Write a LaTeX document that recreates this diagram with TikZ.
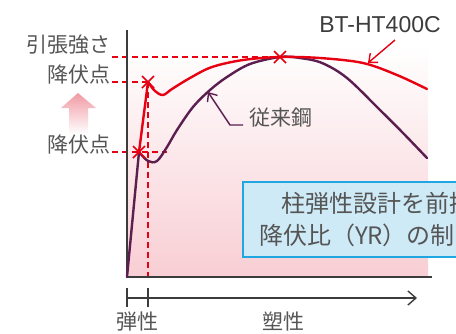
\documentclass[tikz,border=0pt]{standalone}
\usepackage{fontspec}
\setmainfont{Noto Sans CJK JP}
\newfontfamily\latinfont{Liberation Sans}
\usetikzlibrary{arrows.meta}
\definecolor{btred}{HTML}{E60012}
\definecolor{oldsteel}{HTML}{5B1E4F}
\definecolor{axisgray}{HTML}{3C3C3C}
\definecolor{labelgray}{HTML}{555555}
\definecolor{pinkfill}{HTML}{F8CED4}
\definecolor{arrowpink}{HTML}{F09AA3}
\definecolor{boxblue}{HTML}{CFEAF7}
\definecolor{boxline}{HTML}{1EA7E1}

\begin{document}
\begin{tikzpicture}[x=1pt, y=-1pt,
  every node/.style={inner sep=0pt, outer sep=0pt, text=labelgray},
  jplabel/.style={font=\fontsize{21}{21}\selectfont},
  notetext/.style={font=\fontsize{24}{24}\selectfont},
  guide/.style={btred, dash pattern=on 6pt off 4pt, line width=1.2pt},
  yieldmark/.style={btred, line width=1.6pt},
  curve/.style={line width=2.4pt, line join=round, line cap=round},
  pointer/.style={line width=1.4pt, -{Straight Barb[length=7pt,width=12pt]}}]
\useasboundingbox (0,0) rectangle (456,333);
\clip (0,0) rectangle (456,333);

% background
\shade[top color=white, bottom color=pinkfill] (127,45) rectangle (428,277);

% named points
\coordinate (origin) at (127,277);
\coordinate (yieldlow) at (139,152);
\coordinate (yieldhigh) at (148,82);
\coordinate (tensile) at (280,57);

% guide lines
\draw[guide] (112,57) -- (tensile);
\draw[guide] (112,82) -- (yieldhigh);
\draw[guide] (112,152) -- (167,152);
\draw[guide] (yieldhigh) -- (148,277);

% axes
\draw[axisgray, line width=1.5pt] (127,30) -- (origin) -- (432,277);

% conventional steel
\draw[curve, oldsteel] (origin) -- (yieldlow)
  plot[smooth, tension=0.55] coordinates {(139,152) (148,161) (157,161) (167,147) (177,130) (193,107) (210,90) (227,77) (250,64) (280,57) (300,58) (322,63) (347,78) (380,110) (404,134) (427,158)};

% BT-HT400C
\draw[curve, btred] (yieldlow) -- (yieldhigh)
  plot[smooth, tension=0.55] coordinates {(148,82) (155,91) (163,95) (172,89) (190,78) (212,67) (243,60) (280,57) (320,58) (363,63) (397,75) (427,89)};

% yield and tensile marks
\draw[yieldmark] (yieldlow) ++(-6,-6) -- ++(12,12) (yieldlow) ++(-6,6) -- ++(12,-12);
\draw[yieldmark] (yieldhigh) ++(-6,-6) -- ++(12,12) (yieldhigh) ++(-6,6) -- ++(12,-12);
\draw[yieldmark] (tensile) ++(-6,-6) -- ++(12,12) (tensile) ++(-6,6) -- ++(12,-12);

% labels left
\node[jplabel, anchor=east] (tslabel) at (111,45) {引張強さ};
\node[jplabel, anchor=east] (yhlabel) at (111,75) {降伏点};
\node[jplabel, anchor=east] (yllabel) at (111,145) {降伏点};
\shade[top color=arrowpink, bottom color=white] (69,134) -- (69,108) -- (61,108) -- (78,93) -- (96,108) -- (88,108) -- (88,134) -- cycle;

% curve labels
\node[font=\latinfont\fontsize{23}{23}\selectfont, text=axisgray] (btlabel) at (380,25) {BT-HT400C};
\coordinate (btpoint) at (368,63);
\draw[pointer, btred] (395,40) -- (btpoint);
\node[jplabel, anchor=west] (oldlabel) at (249,118) {従来鋼};
\coordinate (oldpoint) at (208,92);
\draw[pointer, oldsteel] (oldlabel.west |- 0,125) ++(-6,0) -- (230,125) -- (oldpoint);

% note box
\draw[boxline, fill=boxblue, line width=1.5pt] (243,182) rectangle (470,257);
\node[notetext, anchor=west] (noteone) at (281,203) {柱弾性設計を前提};
\node[notetext, anchor=west] (notetwo) at (259,235) {降伏比（YR）の制};

% range arrow
\draw[axisgray, line width=1.4pt] (127,288) -- (127,307);
\draw[axisgray, line width=1.4pt] (148,288) -- (148,307);
\draw[axisgray, line width=1.4pt, -{Straight Barb[length=8pt,width=14pt]}] (127,298) -- (417,298);
\node[jplabel] (elastic) at (137,322) {弾性};
\node[jplabel] (plastic) at (283,322) {塑性};
\end{tikzpicture}
\end{document}
